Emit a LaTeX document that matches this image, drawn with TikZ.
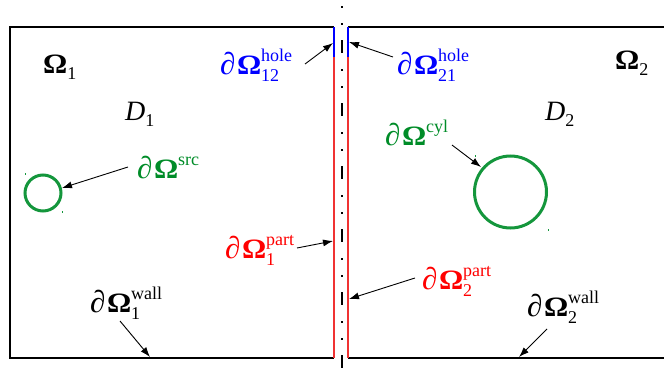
\documentclass[tikz,border=0pt]{standalone}
\usepackage{fontspec}
\usepackage{graphicx}
\setmainfont{Liberation Serif}
\usetikzlibrary{arrows.meta}
\definecolor{lred}{RGB}{240,50,50}
\definecolor{tred}{RGB}{255,0,0}
\definecolor{lblue}{RGB}{0,0,255}
\definecolor{cgreen}{RGB}{20,150,60}
\definecolor{tgreen}{RGB}{0,140,40}
\newcommand\scr[1]{{\fontsize{18}{20}\selectfont #1}}
\newcommand\pdsym{{\fontsize{31}{32}\selectfont\textit{∂}}\kern1.5pt}
\newcommand\Omsym{\scalebox{1.08}[1]{\textbf{Ω}}}
\newcommand\bndss[2]{\pdsym\Omsym\rlap{\raisebox{12.5pt}{\scr{#1}}}\raisebox{-7pt}{\scr{#2}}}
\newcommand\bnds[1]{\pdsym\Omsym\raisebox{12.5pt}{\scr{#1}}}
\begin{document}
\begin{tikzpicture}[x=1pt,y=-1pt,
  lbl/.style={anchor=base west,inner sep=0pt,font=\fontsize{28}{32}\selectfont},
  pointer/.style={black,line width=0.9pt,-{Latex[length=10pt,width=7pt]}},
  wall/.style={black,line width=2pt},
  dom/.style={line width=2pt},
  circ/.style={cgreen,line width=3pt},
  speck/.style={cgreen,line width=1pt}]
\useasboundingbox (0,0) rectangle (664,372);
% boxes
\draw[wall] (334,27) -- (10,27) -- (10,357.5) -- (334,357.5);
\draw[wall] (348,27) -- (664,27);
\draw[wall] (348,357.5) -- (664,357.5);
\draw[dom,lblue] (334,27) -- (334,57);
\draw[dom,lred] (334,57) -- (334,357.5);
\draw[dom,lblue] (348,27) -- (348,57);
\draw[dom,lred] (348,57) -- (348,357.5);
% symmetry line
\draw[black,line width=2pt,dash pattern=on 13pt off 16pt on 1.5pt off 15.5pt on 1.5pt off 15.5pt,dash phase=23pt] (341.5,0) -- (341.5,372);
% circles
\draw[circ] (43,193) circle (18);
\draw[circ] (510.5,192) circle (36);
\draw[speck] (25,173) -- (25,175);
\draw[speck] (62,211) -- (62,213);
\draw[speck] (475,155) -- (475,157);
\draw[speck] (548,229) -- (548,231);
% labels
\node[lbl] (om1) at (43,73) {\Omsym\raisebox{-6pt}{\scr{1}}};
\node[lbl] (d1) at (125,120) {\textit{D}\raisebox{-6pt}{\scr{1}}};
\node[lbl] (om2) at (615,69) {\Omsym\raisebox{-6pt}{\scr{2}}};
\node[lbl] (d2) at (545,120) {\textit{D}\raisebox{-6pt}{\scr{2}}};
\node[lbl,lblue] (h12) at (220,74) {\bndss{hole}{12}};
\node[lbl,lblue] (h21) at (397,74) {\bndss{hole}{21}};
\node[lbl,tgreen] (src) at (137,178) {\bnds{src}};
\node[lbl,tgreen] (cyl) at (385,145) {\bnds{cyl}};
\node[lbl,tred] (p1) at (225,258) {\bndss{part}{1}};
\node[lbl,tred] (p2) at (422,289) {\bndss{part}{2}};
\node[lbl] (w1) at (90,312) {\bndss{wall}{1}};
\node[lbl] (w2) at (527,316) {\bndss{wall}{2}};
% arrow coordinates
\coordinate (h12s) at (305,64); \coordinate (h12e) at (333,43);
\coordinate (h21s) at (393,57); \coordinate (h21e) at (349,42);
\coordinate (srcs) at (128,167); \coordinate (srce) at (62,188);
\coordinate (cyls) at (452,145); \coordinate (cyle) at (481,167);
\coordinate (p1s) at (297,248); \coordinate (p1e) at (333,241);
\coordinate (p2s) at (415,278); \coordinate (p2e) at (349,299);
\coordinate (w1s) at (120,321); \coordinate (w1e) at (150,357);
\coordinate (w2s) at (547,329); \coordinate (w2e) at (519,357);
\draw[pointer] (h12s) -- (h12e);
\draw[pointer] (h21s) -- (h21e);
\draw[pointer] (srcs) -- (srce);
\draw[pointer] (cyls) -- (cyle);
\draw[pointer] (p1s) -- (p1e);
\draw[pointer] (p2s) -- (p2e);
\draw[pointer] (w1s) -- (w1e);
\draw[pointer] (w2s) -- (w2e);
\end{tikzpicture}
\end{document}
